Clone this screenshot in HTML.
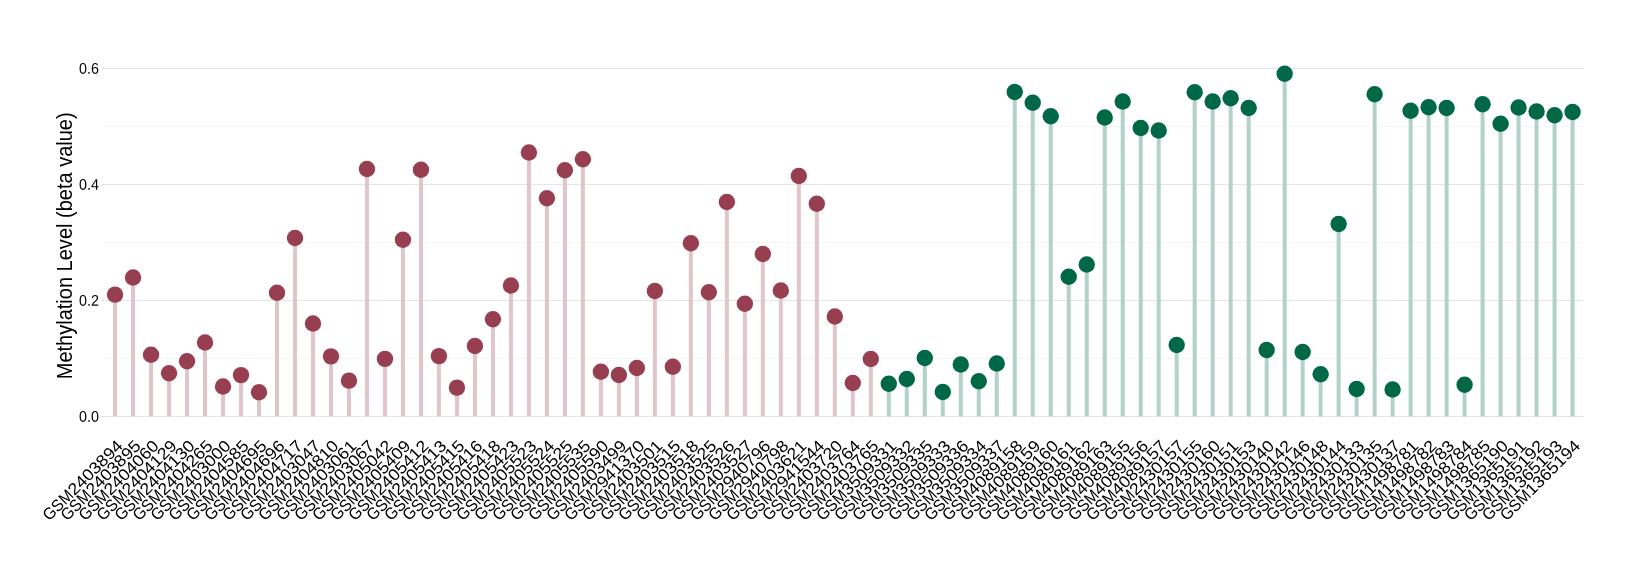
<!DOCTYPE html>
<html lang="en">
<head>
<meta charset="utf-8">
<title>Methylation Level</title>
<style>
html,body{margin:0;padding:0;background:#fff;}
body{width:1640px;height:580px;overflow:hidden;}
svg{display:block;will-change:transform;}
text{font-family:"Liberation Sans",sans-serif;fill:#000;}
.yt{font-size:15.4px;text-anchor:end;}
.xt{font-size:16.5px;text-anchor:end;}
.ttl{font-size:21.2px;text-anchor:middle;}
</style>
</head>
<body>
<svg width="1640" height="580" viewBox="0 0 1640 580">
<rect x="0" y="0" width="1640" height="580" fill="#ffffff"/>
<g shape-rendering="crispEdges">
<line x1="102.0" y1="416.5" x2="1583.6" y2="416.5" stroke="#e6e6e6" stroke-width="1"/>
<line x1="101.6" y1="416.5" x2="104.2" y2="416.5" stroke="#d9d9d9" stroke-width="1"/>
<line x1="104.4" y1="358.5" x2="1583.6" y2="358.5" stroke="#f4f4f4" stroke-width="1"/>
<line x1="102.0" y1="300.5" x2="1583.6" y2="300.5" stroke="#e6e6e6" stroke-width="1"/>
<line x1="101.6" y1="300.5" x2="104.2" y2="300.5" stroke="#d9d9d9" stroke-width="1"/>
<line x1="104.4" y1="242.5" x2="1583.6" y2="242.5" stroke="#f4f4f4" stroke-width="1"/>
<line x1="102.0" y1="184.5" x2="1583.6" y2="184.5" stroke="#e6e6e6" stroke-width="1"/>
<line x1="101.6" y1="184.5" x2="104.2" y2="184.5" stroke="#d9d9d9" stroke-width="1"/>
<line x1="104.4" y1="126.5" x2="1583.6" y2="126.5" stroke="#f4f4f4" stroke-width="1"/>
<line x1="102.0" y1="68.5" x2="1583.6" y2="68.5" stroke="#e6e6e6" stroke-width="1"/>
<line x1="101.6" y1="68.5" x2="104.2" y2="68.5" stroke="#d9d9d9" stroke-width="1"/>
</g>
<g>
<line x1="115.05" y1="416.50" x2="115.05" y2="294.60" stroke="#e0c5cb" stroke-width="4"/>
<line x1="133.04" y1="416.50" x2="133.04" y2="277.50" stroke="#e0c5cb" stroke-width="4"/>
<line x1="151.04" y1="416.50" x2="151.04" y2="354.75" stroke="#e0c5cb" stroke-width="4"/>
<line x1="169.03" y1="416.50" x2="169.03" y2="373.25" stroke="#e0c5cb" stroke-width="4"/>
<line x1="187.03" y1="416.50" x2="187.03" y2="361.25" stroke="#e0c5cb" stroke-width="4"/>
<line x1="205.02" y1="416.50" x2="205.02" y2="342.45" stroke="#e0c5cb" stroke-width="4"/>
<line x1="223.01" y1="416.50" x2="223.01" y2="386.50" stroke="#e0c5cb" stroke-width="4"/>
<line x1="241.01" y1="416.50" x2="241.01" y2="375.10" stroke="#e0c5cb" stroke-width="4"/>
<line x1="259.00" y1="416.50" x2="259.00" y2="392.20" stroke="#e0c5cb" stroke-width="4"/>
<line x1="277.00" y1="416.50" x2="277.00" y2="292.75" stroke="#e0c5cb" stroke-width="4"/>
<line x1="294.99" y1="416.50" x2="294.99" y2="238.00" stroke="#e0c5cb" stroke-width="4"/>
<line x1="312.98" y1="416.50" x2="312.98" y2="323.50" stroke="#e0c5cb" stroke-width="4"/>
<line x1="330.98" y1="416.50" x2="330.98" y2="356.35" stroke="#e0c5cb" stroke-width="4"/>
<line x1="348.97" y1="416.50" x2="348.97" y2="380.65" stroke="#e0c5cb" stroke-width="4"/>
<line x1="366.97" y1="416.50" x2="366.97" y2="169.00" stroke="#e0c5cb" stroke-width="4"/>
<line x1="384.96" y1="416.50" x2="384.96" y2="358.90" stroke="#e0c5cb" stroke-width="4"/>
<line x1="402.95" y1="416.50" x2="402.95" y2="239.75" stroke="#e0c5cb" stroke-width="4"/>
<line x1="420.95" y1="416.50" x2="420.95" y2="169.75" stroke="#e0c5cb" stroke-width="4"/>
<line x1="438.94" y1="416.50" x2="438.94" y2="356.15" stroke="#e0c5cb" stroke-width="4"/>
<line x1="456.94" y1="416.50" x2="456.94" y2="387.65" stroke="#e0c5cb" stroke-width="4"/>
<line x1="474.93" y1="416.50" x2="474.93" y2="346.00" stroke="#e0c5cb" stroke-width="4"/>
<line x1="492.92" y1="416.50" x2="492.92" y2="319.25" stroke="#e0c5cb" stroke-width="4"/>
<line x1="510.92" y1="416.50" x2="510.92" y2="285.50" stroke="#e0c5cb" stroke-width="4"/>
<line x1="528.91" y1="416.50" x2="528.91" y2="152.50" stroke="#e0c5cb" stroke-width="4"/>
<line x1="546.91" y1="416.50" x2="546.91" y2="198.25" stroke="#e0c5cb" stroke-width="4"/>
<line x1="564.90" y1="416.50" x2="564.90" y2="170.25" stroke="#e0c5cb" stroke-width="4"/>
<line x1="582.89" y1="416.50" x2="582.89" y2="159.25" stroke="#e0c5cb" stroke-width="4"/>
<line x1="600.89" y1="416.50" x2="600.89" y2="371.75" stroke="#e0c5cb" stroke-width="4"/>
<line x1="618.88" y1="416.50" x2="618.88" y2="375.00" stroke="#e0c5cb" stroke-width="4"/>
<line x1="636.88" y1="416.50" x2="636.88" y2="368.00" stroke="#e0c5cb" stroke-width="4"/>
<line x1="654.87" y1="416.50" x2="654.87" y2="290.95" stroke="#e0c5cb" stroke-width="4"/>
<line x1="672.86" y1="416.50" x2="672.86" y2="366.75" stroke="#e0c5cb" stroke-width="4"/>
<line x1="690.86" y1="416.50" x2="690.86" y2="243.25" stroke="#e0c5cb" stroke-width="4"/>
<line x1="708.85" y1="416.50" x2="708.85" y2="292.20" stroke="#e0c5cb" stroke-width="4"/>
<line x1="726.85" y1="416.50" x2="726.85" y2="202.00" stroke="#e0c5cb" stroke-width="4"/>
<line x1="744.84" y1="416.50" x2="744.84" y2="303.70" stroke="#e0c5cb" stroke-width="4"/>
<line x1="762.83" y1="416.50" x2="762.83" y2="254.00" stroke="#e0c5cb" stroke-width="4"/>
<line x1="780.83" y1="416.50" x2="780.83" y2="290.45" stroke="#e0c5cb" stroke-width="4"/>
<line x1="798.82" y1="416.50" x2="798.82" y2="176.00" stroke="#e0c5cb" stroke-width="4"/>
<line x1="816.82" y1="416.50" x2="816.82" y2="203.75" stroke="#e0c5cb" stroke-width="4"/>
<line x1="834.81" y1="416.50" x2="834.81" y2="316.45" stroke="#e0c5cb" stroke-width="4"/>
<line x1="852.80" y1="416.50" x2="852.80" y2="383.00" stroke="#e0c5cb" stroke-width="4"/>
<line x1="870.80" y1="416.50" x2="870.80" y2="359.00" stroke="#e0c5cb" stroke-width="4"/>
<line x1="888.79" y1="416.50" x2="888.79" y2="383.75" stroke="#b2d2c7" stroke-width="4"/>
<line x1="906.79" y1="416.50" x2="906.79" y2="379.00" stroke="#b2d2c7" stroke-width="4"/>
<line x1="924.78" y1="416.50" x2="924.78" y2="358.00" stroke="#b2d2c7" stroke-width="4"/>
<line x1="942.77" y1="416.50" x2="942.77" y2="392.00" stroke="#b2d2c7" stroke-width="4"/>
<line x1="960.77" y1="416.50" x2="960.77" y2="364.50" stroke="#b2d2c7" stroke-width="4"/>
<line x1="978.76" y1="416.50" x2="978.76" y2="381.25" stroke="#b2d2c7" stroke-width="4"/>
<line x1="996.76" y1="416.50" x2="996.76" y2="363.50" stroke="#b2d2c7" stroke-width="4"/>
<line x1="1014.75" y1="416.50" x2="1014.75" y2="92.00" stroke="#b2d2c7" stroke-width="4"/>
<line x1="1032.74" y1="416.50" x2="1032.74" y2="102.75" stroke="#b2d2c7" stroke-width="4"/>
<line x1="1050.74" y1="416.50" x2="1050.74" y2="116.25" stroke="#b2d2c7" stroke-width="4"/>
<line x1="1068.73" y1="416.50" x2="1068.73" y2="276.75" stroke="#b2d2c7" stroke-width="4"/>
<line x1="1086.73" y1="416.50" x2="1086.73" y2="264.50" stroke="#b2d2c7" stroke-width="4"/>
<line x1="1104.72" y1="416.50" x2="1104.72" y2="117.50" stroke="#b2d2c7" stroke-width="4"/>
<line x1="1122.71" y1="416.50" x2="1122.71" y2="101.50" stroke="#b2d2c7" stroke-width="4"/>
<line x1="1140.71" y1="416.50" x2="1140.71" y2="128.00" stroke="#b2d2c7" stroke-width="4"/>
<line x1="1158.70" y1="416.50" x2="1158.70" y2="130.50" stroke="#b2d2c7" stroke-width="4"/>
<line x1="1176.70" y1="416.50" x2="1176.70" y2="345.00" stroke="#b2d2c7" stroke-width="4"/>
<line x1="1194.69" y1="416.50" x2="1194.69" y2="92.25" stroke="#b2d2c7" stroke-width="4"/>
<line x1="1212.68" y1="416.50" x2="1212.68" y2="101.50" stroke="#b2d2c7" stroke-width="4"/>
<line x1="1230.68" y1="416.50" x2="1230.68" y2="98.25" stroke="#b2d2c7" stroke-width="4"/>
<line x1="1248.67" y1="416.50" x2="1248.67" y2="108.00" stroke="#b2d2c7" stroke-width="4"/>
<line x1="1266.67" y1="416.50" x2="1266.67" y2="350.00" stroke="#b2d2c7" stroke-width="4"/>
<line x1="1284.66" y1="416.50" x2="1284.66" y2="73.75" stroke="#b2d2c7" stroke-width="4"/>
<line x1="1302.65" y1="416.50" x2="1302.65" y2="352.00" stroke="#b2d2c7" stroke-width="4"/>
<line x1="1320.65" y1="416.50" x2="1320.65" y2="374.25" stroke="#b2d2c7" stroke-width="4"/>
<line x1="1338.64" y1="416.50" x2="1338.64" y2="224.00" stroke="#b2d2c7" stroke-width="4"/>
<line x1="1356.64" y1="416.50" x2="1356.64" y2="389.00" stroke="#b2d2c7" stroke-width="4"/>
<line x1="1374.63" y1="416.50" x2="1374.63" y2="94.25" stroke="#b2d2c7" stroke-width="4"/>
<line x1="1392.62" y1="416.50" x2="1392.62" y2="389.50" stroke="#b2d2c7" stroke-width="4"/>
<line x1="1410.62" y1="416.50" x2="1410.62" y2="110.75" stroke="#b2d2c7" stroke-width="4"/>
<line x1="1428.61" y1="416.50" x2="1428.61" y2="107.25" stroke="#b2d2c7" stroke-width="4"/>
<line x1="1446.61" y1="416.50" x2="1446.61" y2="108.00" stroke="#b2d2c7" stroke-width="4"/>
<line x1="1464.60" y1="416.50" x2="1464.60" y2="384.75" stroke="#b2d2c7" stroke-width="4"/>
<line x1="1482.59" y1="416.50" x2="1482.59" y2="104.25" stroke="#b2d2c7" stroke-width="4"/>
<line x1="1500.59" y1="416.50" x2="1500.59" y2="123.75" stroke="#b2d2c7" stroke-width="4"/>
<line x1="1518.58" y1="416.50" x2="1518.58" y2="107.50" stroke="#b2d2c7" stroke-width="4"/>
<line x1="1536.58" y1="416.50" x2="1536.58" y2="111.50" stroke="#b2d2c7" stroke-width="4"/>
<line x1="1554.57" y1="416.50" x2="1554.57" y2="115.25" stroke="#b2d2c7" stroke-width="4"/>
<line x1="1572.56" y1="416.50" x2="1572.56" y2="112.00" stroke="#b2d2c7" stroke-width="4"/>
</g>
<g>
<circle cx="115.05" cy="294.60" r="8.2" fill="#973f50"/>
<circle cx="133.04" cy="277.50" r="8.2" fill="#973f50"/>
<circle cx="151.04" cy="354.75" r="8.2" fill="#973f50"/>
<circle cx="169.03" cy="373.25" r="8.2" fill="#973f50"/>
<circle cx="187.03" cy="361.25" r="8.2" fill="#973f50"/>
<circle cx="205.02" cy="342.45" r="8.2" fill="#973f50"/>
<circle cx="223.01" cy="386.50" r="8.2" fill="#973f50"/>
<circle cx="241.01" cy="375.10" r="8.2" fill="#973f50"/>
<circle cx="259.00" cy="392.20" r="8.2" fill="#973f50"/>
<circle cx="277.00" cy="292.75" r="8.2" fill="#973f50"/>
<circle cx="294.99" cy="238.00" r="8.2" fill="#973f50"/>
<circle cx="312.98" cy="323.50" r="8.2" fill="#973f50"/>
<circle cx="330.98" cy="356.35" r="8.2" fill="#973f50"/>
<circle cx="348.97" cy="380.65" r="8.2" fill="#973f50"/>
<circle cx="366.97" cy="169.00" r="8.2" fill="#973f50"/>
<circle cx="384.96" cy="358.90" r="8.2" fill="#973f50"/>
<circle cx="402.95" cy="239.75" r="8.2" fill="#973f50"/>
<circle cx="420.95" cy="169.75" r="8.2" fill="#973f50"/>
<circle cx="438.94" cy="356.15" r="8.2" fill="#973f50"/>
<circle cx="456.94" cy="387.65" r="8.2" fill="#973f50"/>
<circle cx="474.93" cy="346.00" r="8.2" fill="#973f50"/>
<circle cx="492.92" cy="319.25" r="8.2" fill="#973f50"/>
<circle cx="510.92" cy="285.50" r="8.2" fill="#973f50"/>
<circle cx="528.91" cy="152.50" r="8.2" fill="#973f50"/>
<circle cx="546.91" cy="198.25" r="8.2" fill="#973f50"/>
<circle cx="564.90" cy="170.25" r="8.2" fill="#973f50"/>
<circle cx="582.89" cy="159.25" r="8.2" fill="#973f50"/>
<circle cx="600.89" cy="371.75" r="8.2" fill="#973f50"/>
<circle cx="618.88" cy="375.00" r="8.2" fill="#973f50"/>
<circle cx="636.88" cy="368.00" r="8.2" fill="#973f50"/>
<circle cx="654.87" cy="290.95" r="8.2" fill="#973f50"/>
<circle cx="672.86" cy="366.75" r="8.2" fill="#973f50"/>
<circle cx="690.86" cy="243.25" r="8.2" fill="#973f50"/>
<circle cx="708.85" cy="292.20" r="8.2" fill="#973f50"/>
<circle cx="726.85" cy="202.00" r="8.2" fill="#973f50"/>
<circle cx="744.84" cy="303.70" r="8.2" fill="#973f50"/>
<circle cx="762.83" cy="254.00" r="8.2" fill="#973f50"/>
<circle cx="780.83" cy="290.45" r="8.2" fill="#973f50"/>
<circle cx="798.82" cy="176.00" r="8.2" fill="#973f50"/>
<circle cx="816.82" cy="203.75" r="8.2" fill="#973f50"/>
<circle cx="834.81" cy="316.45" r="8.2" fill="#973f50"/>
<circle cx="852.80" cy="383.00" r="8.2" fill="#973f50"/>
<circle cx="870.80" cy="359.00" r="8.2" fill="#973f50"/>
<circle cx="888.79" cy="383.75" r="8.2" fill="#006847"/>
<circle cx="906.79" cy="379.00" r="8.2" fill="#006847"/>
<circle cx="924.78" cy="358.00" r="8.2" fill="#006847"/>
<circle cx="942.77" cy="392.00" r="8.2" fill="#006847"/>
<circle cx="960.77" cy="364.50" r="8.2" fill="#006847"/>
<circle cx="978.76" cy="381.25" r="8.2" fill="#006847"/>
<circle cx="996.76" cy="363.50" r="8.2" fill="#006847"/>
<circle cx="1014.75" cy="92.00" r="8.2" fill="#006847"/>
<circle cx="1032.74" cy="102.75" r="8.2" fill="#006847"/>
<circle cx="1050.74" cy="116.25" r="8.2" fill="#006847"/>
<circle cx="1068.73" cy="276.75" r="8.2" fill="#006847"/>
<circle cx="1086.73" cy="264.50" r="8.2" fill="#006847"/>
<circle cx="1104.72" cy="117.50" r="8.2" fill="#006847"/>
<circle cx="1122.71" cy="101.50" r="8.2" fill="#006847"/>
<circle cx="1140.71" cy="128.00" r="8.2" fill="#006847"/>
<circle cx="1158.70" cy="130.50" r="8.2" fill="#006847"/>
<circle cx="1176.70" cy="345.00" r="8.2" fill="#006847"/>
<circle cx="1194.69" cy="92.25" r="8.2" fill="#006847"/>
<circle cx="1212.68" cy="101.50" r="8.2" fill="#006847"/>
<circle cx="1230.68" cy="98.25" r="8.2" fill="#006847"/>
<circle cx="1248.67" cy="108.00" r="8.2" fill="#006847"/>
<circle cx="1266.67" cy="350.00" r="8.2" fill="#006847"/>
<circle cx="1284.66" cy="73.75" r="8.2" fill="#006847"/>
<circle cx="1302.65" cy="352.00" r="8.2" fill="#006847"/>
<circle cx="1320.65" cy="374.25" r="8.2" fill="#006847"/>
<circle cx="1338.64" cy="224.00" r="8.2" fill="#006847"/>
<circle cx="1356.64" cy="389.00" r="8.2" fill="#006847"/>
<circle cx="1374.63" cy="94.25" r="8.2" fill="#006847"/>
<circle cx="1392.62" cy="389.50" r="8.2" fill="#006847"/>
<circle cx="1410.62" cy="110.75" r="8.2" fill="#006847"/>
<circle cx="1428.61" cy="107.25" r="8.2" fill="#006847"/>
<circle cx="1446.61" cy="108.00" r="8.2" fill="#006847"/>
<circle cx="1464.60" cy="384.75" r="8.2" fill="#006847"/>
<circle cx="1482.59" cy="104.25" r="8.2" fill="#006847"/>
<circle cx="1500.59" cy="123.75" r="8.2" fill="#006847"/>
<circle cx="1518.58" cy="107.50" r="8.2" fill="#006847"/>
<circle cx="1536.58" cy="111.50" r="8.2" fill="#006847"/>
<circle cx="1554.57" cy="115.25" r="8.2" fill="#006847"/>
<circle cx="1572.56" cy="112.00" r="8.2" fill="#006847"/>
</g>
<g>
<text class="yt" transform="translate(98.9,421.80) rotate(0.05) scale(0.93,1)">0.0</text>
<text class="yt" transform="translate(98.9,305.80) rotate(0.05) scale(0.93,1)">0.2</text>
<text class="yt" transform="translate(98.9,189.80) rotate(0.05) scale(0.93,1)">0.4</text>
<text class="yt" transform="translate(98.9,73.80) rotate(0.05) scale(0.93,1)">0.6</text>
</g>
<text class="ttl" transform="translate(72.1,245.8) rotate(-90) scale(0.944,1)">Methylation Level (beta value)</text>
<g>
<g transform="translate(123.75,447.00) rotate(-45)"><text class="xt" transform="scale(1.087,1)">2403894</text><text class="xt" transform="translate(-69.80,0) scale(0.950,1)">GSM</text></g>
<g transform="translate(141.74,447.00) rotate(-45)"><text class="xt" transform="scale(1.087,1)">2403895</text><text class="xt" transform="translate(-69.80,0) scale(0.950,1)">GSM</text></g>
<g transform="translate(159.74,447.00) rotate(-45)"><text class="xt" transform="scale(1.087,1)">2404060</text><text class="xt" transform="translate(-69.80,0) scale(0.950,1)">GSM</text></g>
<g transform="translate(177.73,447.00) rotate(-45)"><text class="xt" transform="scale(1.087,1)">2404129</text><text class="xt" transform="translate(-69.80,0) scale(0.950,1)">GSM</text></g>
<g transform="translate(195.73,447.00) rotate(-45)"><text class="xt" transform="scale(1.087,1)">2404130</text><text class="xt" transform="translate(-69.80,0) scale(0.950,1)">GSM</text></g>
<g transform="translate(213.72,447.00) rotate(-45)"><text class="xt" transform="scale(1.087,1)">2404265</text><text class="xt" transform="translate(-69.80,0) scale(0.950,1)">GSM</text></g>
<g transform="translate(231.71,447.00) rotate(-45)"><text class="xt" transform="scale(1.087,1)">2403000</text><text class="xt" transform="translate(-69.80,0) scale(0.950,1)">GSM</text></g>
<g transform="translate(249.71,447.00) rotate(-45)"><text class="xt" transform="scale(1.087,1)">2404585</text><text class="xt" transform="translate(-69.80,0) scale(0.950,1)">GSM</text></g>
<g transform="translate(267.70,447.00) rotate(-45)"><text class="xt" transform="scale(1.087,1)">2404695</text><text class="xt" transform="translate(-69.80,0) scale(0.950,1)">GSM</text></g>
<g transform="translate(285.70,447.00) rotate(-45)"><text class="xt" transform="scale(1.087,1)">2404696</text><text class="xt" transform="translate(-69.80,0) scale(0.950,1)">GSM</text></g>
<g transform="translate(303.69,447.00) rotate(-45)"><text class="xt" transform="scale(1.087,1)">2404717</text><text class="xt" transform="translate(-69.80,0) scale(0.950,1)">GSM</text></g>
<g transform="translate(321.68,447.00) rotate(-45)"><text class="xt" transform="scale(1.087,1)">2403047</text><text class="xt" transform="translate(-69.80,0) scale(0.950,1)">GSM</text></g>
<g transform="translate(339.68,447.00) rotate(-45)"><text class="xt" transform="scale(1.087,1)">2404810</text><text class="xt" transform="translate(-69.80,0) scale(0.950,1)">GSM</text></g>
<g transform="translate(357.67,447.00) rotate(-45)"><text class="xt" transform="scale(1.087,1)">2403061</text><text class="xt" transform="translate(-69.80,0) scale(0.950,1)">GSM</text></g>
<g transform="translate(375.67,447.00) rotate(-45)"><text class="xt" transform="scale(1.087,1)">2403067</text><text class="xt" transform="translate(-69.80,0) scale(0.950,1)">GSM</text></g>
<g transform="translate(393.66,447.00) rotate(-45)"><text class="xt" transform="scale(1.087,1)">2405042</text><text class="xt" transform="translate(-69.80,0) scale(0.950,1)">GSM</text></g>
<g transform="translate(411.65,447.00) rotate(-45)"><text class="xt" transform="scale(1.087,1)">2405409</text><text class="xt" transform="translate(-69.80,0) scale(0.950,1)">GSM</text></g>
<g transform="translate(429.65,447.00) rotate(-45)"><text class="xt" transform="scale(1.087,1)">2405412</text><text class="xt" transform="translate(-69.80,0) scale(0.950,1)">GSM</text></g>
<g transform="translate(447.64,447.00) rotate(-45)"><text class="xt" transform="scale(1.087,1)">2405413</text><text class="xt" transform="translate(-69.80,0) scale(0.950,1)">GSM</text></g>
<g transform="translate(465.64,447.00) rotate(-45)"><text class="xt" transform="scale(1.087,1)">2405415</text><text class="xt" transform="translate(-69.80,0) scale(0.950,1)">GSM</text></g>
<g transform="translate(483.63,447.00) rotate(-45)"><text class="xt" transform="scale(1.087,1)">2405416</text><text class="xt" transform="translate(-69.80,0) scale(0.950,1)">GSM</text></g>
<g transform="translate(501.62,447.00) rotate(-45)"><text class="xt" transform="scale(1.087,1)">2405418</text><text class="xt" transform="translate(-69.80,0) scale(0.950,1)">GSM</text></g>
<g transform="translate(519.62,447.00) rotate(-45)"><text class="xt" transform="scale(1.087,1)">2405423</text><text class="xt" transform="translate(-69.80,0) scale(0.950,1)">GSM</text></g>
<g transform="translate(537.61,447.00) rotate(-45)"><text class="xt" transform="scale(1.087,1)">2405523</text><text class="xt" transform="translate(-69.80,0) scale(0.950,1)">GSM</text></g>
<g transform="translate(555.61,447.00) rotate(-45)"><text class="xt" transform="scale(1.087,1)">2405524</text><text class="xt" transform="translate(-69.80,0) scale(0.950,1)">GSM</text></g>
<g transform="translate(573.60,447.00) rotate(-45)"><text class="xt" transform="scale(1.087,1)">2405525</text><text class="xt" transform="translate(-69.80,0) scale(0.950,1)">GSM</text></g>
<g transform="translate(591.59,447.00) rotate(-45)"><text class="xt" transform="scale(1.087,1)">2405535</text><text class="xt" transform="translate(-69.80,0) scale(0.950,1)">GSM</text></g>
<g transform="translate(609.59,447.00) rotate(-45)"><text class="xt" transform="scale(1.087,1)">2405590</text><text class="xt" transform="translate(-69.80,0) scale(0.950,1)">GSM</text></g>
<g transform="translate(627.58,447.00) rotate(-45)"><text class="xt" transform="scale(1.087,1)">2403499</text><text class="xt" transform="translate(-69.80,0) scale(0.950,1)">GSM</text></g>
<g transform="translate(645.58,447.00) rotate(-45)"><text class="xt" transform="scale(1.087,1)">2941370</text><text class="xt" transform="translate(-69.80,0) scale(0.950,1)">GSM</text></g>
<g transform="translate(663.57,447.00) rotate(-45)"><text class="xt" transform="scale(1.087,1)">2403501</text><text class="xt" transform="translate(-69.80,0) scale(0.950,1)">GSM</text></g>
<g transform="translate(681.56,447.00) rotate(-45)"><text class="xt" transform="scale(1.087,1)">2403515</text><text class="xt" transform="translate(-69.80,0) scale(0.950,1)">GSM</text></g>
<g transform="translate(699.56,447.00) rotate(-45)"><text class="xt" transform="scale(1.087,1)">2403518</text><text class="xt" transform="translate(-69.80,0) scale(0.950,1)">GSM</text></g>
<g transform="translate(717.55,447.00) rotate(-45)"><text class="xt" transform="scale(1.087,1)">2403525</text><text class="xt" transform="translate(-69.80,0) scale(0.950,1)">GSM</text></g>
<g transform="translate(735.55,447.00) rotate(-45)"><text class="xt" transform="scale(1.087,1)">2403526</text><text class="xt" transform="translate(-69.80,0) scale(0.950,1)">GSM</text></g>
<g transform="translate(753.54,447.00) rotate(-45)"><text class="xt" transform="scale(1.087,1)">2403527</text><text class="xt" transform="translate(-69.80,0) scale(0.950,1)">GSM</text></g>
<g transform="translate(771.53,447.00) rotate(-45)"><text class="xt" transform="scale(1.087,1)">2940796</text><text class="xt" transform="translate(-69.80,0) scale(0.950,1)">GSM</text></g>
<g transform="translate(789.53,447.00) rotate(-45)"><text class="xt" transform="scale(1.087,1)">2940798</text><text class="xt" transform="translate(-69.80,0) scale(0.950,1)">GSM</text></g>
<g transform="translate(807.52,447.00) rotate(-45)"><text class="xt" transform="scale(1.087,1)">2403621</text><text class="xt" transform="translate(-69.80,0) scale(0.950,1)">GSM</text></g>
<g transform="translate(825.52,447.00) rotate(-45)"><text class="xt" transform="scale(1.087,1)">2941544</text><text class="xt" transform="translate(-69.80,0) scale(0.950,1)">GSM</text></g>
<g transform="translate(843.51,447.00) rotate(-45)"><text class="xt" transform="scale(1.087,1)">2403720</text><text class="xt" transform="translate(-69.80,0) scale(0.950,1)">GSM</text></g>
<g transform="translate(861.50,447.00) rotate(-45)"><text class="xt" transform="scale(1.087,1)">2403764</text><text class="xt" transform="translate(-69.80,0) scale(0.950,1)">GSM</text></g>
<g transform="translate(879.50,447.00) rotate(-45)"><text class="xt" transform="scale(1.087,1)">2403765</text><text class="xt" transform="translate(-69.80,0) scale(0.950,1)">GSM</text></g>
<g transform="translate(897.49,447.00) rotate(-45)"><text class="xt" transform="scale(1.087,1)">3509331</text><text class="xt" transform="translate(-69.80,0) scale(0.950,1)">GSM</text></g>
<g transform="translate(915.49,447.00) rotate(-45)"><text class="xt" transform="scale(1.087,1)">3509332</text><text class="xt" transform="translate(-69.80,0) scale(0.950,1)">GSM</text></g>
<g transform="translate(933.48,447.00) rotate(-45)"><text class="xt" transform="scale(1.087,1)">3509335</text><text class="xt" transform="translate(-69.80,0) scale(0.950,1)">GSM</text></g>
<g transform="translate(951.47,447.00) rotate(-45)"><text class="xt" transform="scale(1.087,1)">3509333</text><text class="xt" transform="translate(-69.80,0) scale(0.950,1)">GSM</text></g>
<g transform="translate(969.47,447.00) rotate(-45)"><text class="xt" transform="scale(1.087,1)">3509336</text><text class="xt" transform="translate(-69.80,0) scale(0.950,1)">GSM</text></g>
<g transform="translate(987.46,447.00) rotate(-45)"><text class="xt" transform="scale(1.087,1)">3509334</text><text class="xt" transform="translate(-69.80,0) scale(0.950,1)">GSM</text></g>
<g transform="translate(1005.46,447.00) rotate(-45)"><text class="xt" transform="scale(1.087,1)">3509337</text><text class="xt" transform="translate(-69.80,0) scale(0.950,1)">GSM</text></g>
<g transform="translate(1023.45,447.00) rotate(-45)"><text class="xt" transform="scale(1.087,1)">4089158</text><text class="xt" transform="translate(-69.80,0) scale(0.950,1)">GSM</text></g>
<g transform="translate(1041.44,447.00) rotate(-45)"><text class="xt" transform="scale(1.087,1)">4089159</text><text class="xt" transform="translate(-69.80,0) scale(0.950,1)">GSM</text></g>
<g transform="translate(1059.44,447.00) rotate(-45)"><text class="xt" transform="scale(1.087,1)">4089160</text><text class="xt" transform="translate(-69.80,0) scale(0.950,1)">GSM</text></g>
<g transform="translate(1077.43,447.00) rotate(-45)"><text class="xt" transform="scale(1.087,1)">4089161</text><text class="xt" transform="translate(-69.80,0) scale(0.950,1)">GSM</text></g>
<g transform="translate(1095.43,447.00) rotate(-45)"><text class="xt" transform="scale(1.087,1)">4089162</text><text class="xt" transform="translate(-69.80,0) scale(0.950,1)">GSM</text></g>
<g transform="translate(1113.42,447.00) rotate(-45)"><text class="xt" transform="scale(1.087,1)">4089163</text><text class="xt" transform="translate(-69.80,0) scale(0.950,1)">GSM</text></g>
<g transform="translate(1131.41,447.00) rotate(-45)"><text class="xt" transform="scale(1.087,1)">4089155</text><text class="xt" transform="translate(-69.80,0) scale(0.950,1)">GSM</text></g>
<g transform="translate(1149.41,447.00) rotate(-45)"><text class="xt" transform="scale(1.087,1)">4089156</text><text class="xt" transform="translate(-69.80,0) scale(0.950,1)">GSM</text></g>
<g transform="translate(1167.40,447.00) rotate(-45)"><text class="xt" transform="scale(1.087,1)">4089157</text><text class="xt" transform="translate(-69.80,0) scale(0.950,1)">GSM</text></g>
<g transform="translate(1185.40,447.00) rotate(-45)"><text class="xt" transform="scale(1.087,1)">2430157</text><text class="xt" transform="translate(-69.80,0) scale(0.950,1)">GSM</text></g>
<g transform="translate(1203.39,447.00) rotate(-45)"><text class="xt" transform="scale(1.087,1)">2430155</text><text class="xt" transform="translate(-69.80,0) scale(0.950,1)">GSM</text></g>
<g transform="translate(1221.38,447.00) rotate(-45)"><text class="xt" transform="scale(1.087,1)">2430160</text><text class="xt" transform="translate(-69.80,0) scale(0.950,1)">GSM</text></g>
<g transform="translate(1239.38,447.00) rotate(-45)"><text class="xt" transform="scale(1.087,1)">2430151</text><text class="xt" transform="translate(-69.80,0) scale(0.950,1)">GSM</text></g>
<g transform="translate(1257.37,447.00) rotate(-45)"><text class="xt" transform="scale(1.087,1)">2430153</text><text class="xt" transform="translate(-69.80,0) scale(0.950,1)">GSM</text></g>
<g transform="translate(1275.37,447.00) rotate(-45)"><text class="xt" transform="scale(1.087,1)">2430140</text><text class="xt" transform="translate(-69.80,0) scale(0.950,1)">GSM</text></g>
<g transform="translate(1293.36,447.00) rotate(-45)"><text class="xt" transform="scale(1.087,1)">2430142</text><text class="xt" transform="translate(-69.80,0) scale(0.950,1)">GSM</text></g>
<g transform="translate(1311.35,447.00) rotate(-45)"><text class="xt" transform="scale(1.087,1)">2430146</text><text class="xt" transform="translate(-69.80,0) scale(0.950,1)">GSM</text></g>
<g transform="translate(1329.35,447.00) rotate(-45)"><text class="xt" transform="scale(1.087,1)">2430148</text><text class="xt" transform="translate(-69.80,0) scale(0.950,1)">GSM</text></g>
<g transform="translate(1347.34,447.00) rotate(-45)"><text class="xt" transform="scale(1.087,1)">2430144</text><text class="xt" transform="translate(-69.80,0) scale(0.950,1)">GSM</text></g>
<g transform="translate(1365.34,447.00) rotate(-45)"><text class="xt" transform="scale(1.087,1)">2430133</text><text class="xt" transform="translate(-69.80,0) scale(0.950,1)">GSM</text></g>
<g transform="translate(1383.33,447.00) rotate(-45)"><text class="xt" transform="scale(1.087,1)">2430135</text><text class="xt" transform="translate(-69.80,0) scale(0.950,1)">GSM</text></g>
<g transform="translate(1401.32,447.00) rotate(-45)"><text class="xt" transform="scale(1.087,1)">2430137</text><text class="xt" transform="translate(-69.80,0) scale(0.950,1)">GSM</text></g>
<g transform="translate(1419.32,447.00) rotate(-45)"><text class="xt" transform="scale(1.087,1)">1498781</text><text class="xt" transform="translate(-69.80,0) scale(0.950,1)">GSM</text></g>
<g transform="translate(1437.31,447.00) rotate(-45)"><text class="xt" transform="scale(1.087,1)">1498782</text><text class="xt" transform="translate(-69.80,0) scale(0.950,1)">GSM</text></g>
<g transform="translate(1455.31,447.00) rotate(-45)"><text class="xt" transform="scale(1.087,1)">1498783</text><text class="xt" transform="translate(-69.80,0) scale(0.950,1)">GSM</text></g>
<g transform="translate(1473.30,447.00) rotate(-45)"><text class="xt" transform="scale(1.087,1)">1498784</text><text class="xt" transform="translate(-69.80,0) scale(0.950,1)">GSM</text></g>
<g transform="translate(1491.29,447.00) rotate(-45)"><text class="xt" transform="scale(1.087,1)">1498785</text><text class="xt" transform="translate(-69.80,0) scale(0.950,1)">GSM</text></g>
<g transform="translate(1509.29,447.00) rotate(-45)"><text class="xt" transform="scale(1.087,1)">1365190</text><text class="xt" transform="translate(-69.80,0) scale(0.950,1)">GSM</text></g>
<g transform="translate(1527.28,447.00) rotate(-45)"><text class="xt" transform="scale(1.087,1)">1365191</text><text class="xt" transform="translate(-69.80,0) scale(0.950,1)">GSM</text></g>
<g transform="translate(1545.28,447.00) rotate(-45)"><text class="xt" transform="scale(1.087,1)">1365192</text><text class="xt" transform="translate(-69.80,0) scale(0.950,1)">GSM</text></g>
<g transform="translate(1563.27,447.00) rotate(-45)"><text class="xt" transform="scale(1.087,1)">1365193</text><text class="xt" transform="translate(-69.80,0) scale(0.950,1)">GSM</text></g>
<g transform="translate(1581.26,447.00) rotate(-45)"><text class="xt" transform="scale(1.087,1)">1365194</text><text class="xt" transform="translate(-69.80,0) scale(0.950,1)">GSM</text></g>
</g>
</svg>
</body>
</html>
